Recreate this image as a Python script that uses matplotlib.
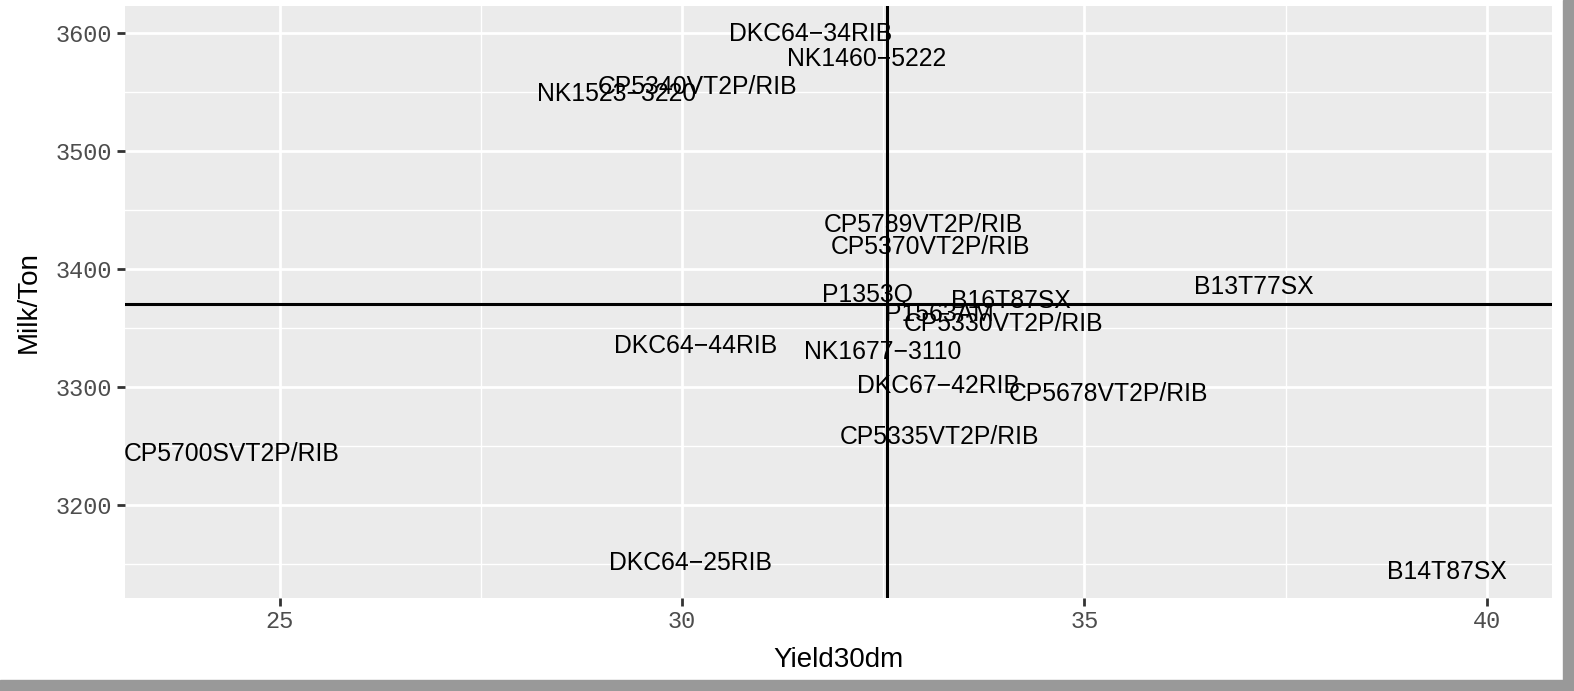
import matplotlib
matplotlib.use("Agg")
import matplotlib.pyplot as plt
from matplotlib.patches import Rectangle

hybrids = ["DKC64−34RIB", "NK1460−5222", "CP5340VT2P/RIB", "NK1523−3220",
           "CP5789VT2P/RIB", "CP5370VT2P/RIB", "B13T77SX", "P1353Q",
           "B16T87SX", "P1563AM", "CP5330VT2P/RIB", "DKC64−44RIB",
           "NK1677−3110", "DKC67−42RIB", "CP5678VT2P/RIB", "CP5335VT2P/RIB",
           "CP5700SVT2P/RIB", "DKC64−25RIB", "B14T87SX"]
yield30dm = [31.60, 32.29, 30.20, 29.19, 33.00, 33.09, 37.11, 32.30,
             34.09, 33.20, 34.00, 30.17, 32.50, 33.19, 35.30, 33.20,
             24.40, 30.10, 39.50]
milk_ton = [3599, 3578, 3554, 3548, 3437, 3419, 3385, 3378,
            3372.5, 3362, 3353, 3335, 3330, 3301, 3294, 3258,
            3243, 3151, 3143]
vline_x = 32.55
hline_y = 3370.3
x_ticks = [25, 30, 35, 40]
y_ticks = [3200, 3300, 3400, 3500, 3600]
x_minor = [27.5, 32.5, 37.5]
y_minor = [3150, 3250, 3350, 3450, 3550]

W, H = 1574, 691
fig = plt.figure(figsize=(W / 100, H / 100), dpi=100)
fig.patch.set_facecolor("white")
ax = fig.add_axes([125 / W, 1 - 598 / H, (1552 - 125) / W, (598 - 6) / H])
ax.set_facecolor("#EBEBEB")
for s in ax.spines.values():
    s.set_visible(False)

ax.set_xlim(23.08, 40.81)
ax.set_ylim(3121.2, 3622.9)

for xv in x_minor:
    ax.axvline(xv, color="white", lw=1.0, zorder=0.5)
for yv in y_minor:
    ax.axhline(yv, color="white", lw=1.0, zorder=0.5)
for xv in x_ticks:
    ax.axvline(xv, color="white", lw=2.0, zorder=0.6)
for yv in y_ticks:
    ax.axhline(yv, color="white", lw=2.0, zorder=0.6)

ax.axvline(vline_x, color="black", lw=2.2, zorder=2)
ax.axhline(hline_y, color="black", lw=2.2, zorder=2)

for name, xv, yv in zip(hybrids, yield30dm, milk_ton):
    ax.text(xv, yv, name, ha="center", va="center", fontsize=17.8,
            family="Liberation Sans", color="black", zorder=3, clip_on=True)

ax.set_xticks(x_ticks)
ax.set_yticks(y_ticks)
ax.set_xticklabels([str(v) for v in x_ticks])
ax.set_yticklabels([str(v) for v in y_ticks])
ax.tick_params(axis="both", length=6, width=2, color="#333333",
               labelcolor="#4D4D4D", labelsize=17, pad=3)
for lab in ax.get_xticklabels() + ax.get_yticklabels():
    lab.set_family("Liberation Mono")

ax.set_xlabel("Yield30dm", fontsize=20, family="Liberation Sans", labelpad=10)
ax.set_ylabel("Milk/Ton", fontsize=20, family="Liberation Sans", labelpad=10)

# gray outer border (right and bottom)
fig.patches.append(Rectangle((1563 / W, 0), 11 / W, 1, transform=fig.transFigure,
                             color="#999999", zorder=10))
fig.patches.append(Rectangle((0, 0), 1, 11 / H, transform=fig.transFigure,
                             color="#999999", zorder=10))

fig.savefig("out.png", dpi=100)
